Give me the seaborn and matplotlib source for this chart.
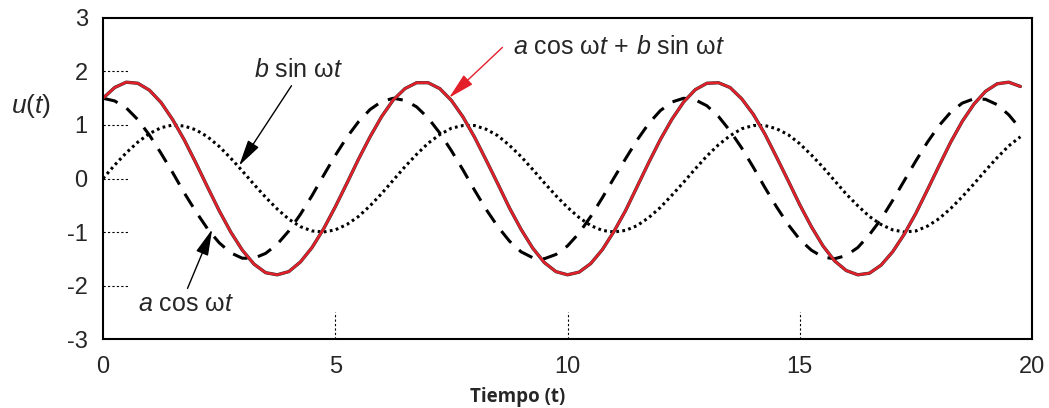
import matplotlib
matplotlib.use("Agg")
import matplotlib.pyplot as plt
import matplotlib.patheffects as pe
import numpy as np
import pandas as pd
import seaborn as sns

# Sample times (t) and values
t = np.arange(0, 20, 0.25)

a_cos = [1.50, 1.45, 1.32, 1.10, 0.81, 0.47, 0.11, -0.27, -0.62, -0.94,
         -1.20, -1.39, -1.49, -1.49, -1.40, -1.23, -0.98, -0.67, -0.32, 0.06,
         0.43, 0.77, 1.06, 1.29, 1.44, 1.50, 1.46, 1.34, 1.13, 0.85,
         0.52, 0.16, -0.22, -0.58, -0.90, -1.17, -1.37, -1.48, -1.50, -1.42,
         -1.26, -1.02, -0.71, -0.36, 0.01, 0.37, 0.72, 1.03, 1.27, 1.43,
         1.50, 1.47, 1.36, 1.16, 0.89, 0.57, 0.21, -0.17, -0.53, -0.86,
         -1.14, -1.34, -1.47, -1.50, -1.44, -1.29, -1.05, -0.76, -0.41, -0.04,
         0.33, 0.68, 0.99, 1.24, 1.41, 1.49, 1.48, 1.38, 1.19, 0.93]

b_sin = [0.00, 0.25, 0.48, 0.68, 0.84, 0.95, 1.00, 0.98, 0.91, 0.78,
         0.60, 0.38, 0.14, -0.11, -0.35, -0.57, -0.76, -0.90, -0.98, -1.00,
         -0.96, -0.86, -0.71, -0.51, -0.28, -0.03, 0.22, 0.45, 0.66, 0.82,
         0.94, 0.99, 0.99, 0.92, 0.80, 0.62, 0.41, 0.17, -0.08, -0.32,
         -0.54, -0.73, -0.88, -0.97, -1.00, -0.97, -0.88, -0.73, -0.54, -0.31,
         -0.07, 0.18, 0.42, 0.63, 0.80, 0.93, 0.99, 0.99, 0.93, 0.82,
         0.65, 0.44, 0.21, -0.04, -0.29, -0.51, -0.71, -0.86, -0.96, -1.00,
         -0.98, -0.89, -0.75, -0.56, -0.34, -0.10, 0.15, 0.39, 0.61, 0.78]

total = [1.50, 1.70, 1.80, 1.78, 1.65, 1.42, 1.10, 0.72, 0.29, -0.16,
         -0.60, -1.00, -1.34, -1.60, -1.76, -1.80, -1.74, -1.56, -1.29, -0.94,
         -0.53, -0.09, 0.36, 0.78, 1.16, 1.47, 1.68, 1.79, 1.79, 1.68,
         1.46, 1.15, 0.77, 0.34, -0.10, -0.55, -0.95, -1.30, -1.57, -1.74,
         -1.80, -1.75, -1.59, -1.33, -0.99, -0.60, -0.15, 0.30, 0.73, 1.11,
         1.43, 1.66, 1.78, 1.79, 1.70, 1.49, 1.20, 0.83, 0.40, -0.04,
         -0.49, -0.90, -1.26, -1.54, -1.72, -1.80, -1.77, -1.62, -1.37, -1.04,
         -0.65, -0.21, 0.24, 0.68, 1.07, 1.39, 1.63, 1.77, 1.80, 1.72]

x_ticks = [0, 5, 10, 15, 20]
y_ticks = [-3, -2, -1, 0, 1, 2, 3]
guide_y = [-2, -1, 0, 1, 2]
guide_x = [5, 10, 15]

df = pd.DataFrame({"t": t, "a_cos": a_cos, "b_sin": b_sin, "total": total})

sns.set_style("white")
plt.rcParams["font.family"] = ["Liberation Sans", "DejaVu Sans"]
plt.rcParams["mathtext.fontset"] = "custom"
plt.rcParams["mathtext.rm"] = "Liberation Sans"
plt.rcParams["mathtext.it"] = "Liberation Sans:italic"
plt.rcParams["axes.unicode_minus"] = False

fig = plt.figure(figsize=(10.49, 4.08), dpi=100)
ax = fig.add_axes([0.0982, 0.1691, 0.8856, 0.7868])

sns.lineplot(data=df, x="t", y="b_sin", ax=ax, color="black", lw=2.2)
ax.lines[-1].set_linestyle((0, (0.9, 1.1)))
sns.lineplot(data=df, x="t", y="a_cos", ax=ax, color="black", lw=2.2)
ax.lines[-1].set_linestyle((0, (5, 3.5)))
sns.lineplot(data=df, x="t", y="total", ax=ax, color="#e3202a", lw=1.8,
             path_effects=[pe.Stroke(linewidth=2.4, foreground="#333333"), pe.Normal()])

# dotted guide marks at the ticks
ax.hlines(guide_y, 0, 0.55, colors="black", lw=0.8, linestyles=(0, (2, 2)))
ax.vlines(guide_x, -3, -2.5, colors="black", lw=0.8, linestyles=(0, (2, 2)))

ax.set_xlim(0, 20)
ax.set_ylim(-3, 3)
ax.set_xticks(x_ticks)
ax.set_yticks(y_ticks)
ax.tick_params(length=0, labelsize=17)
ax.tick_params(axis="x", pad=12)
ax.tick_params(axis="y", pad=11)
ax.set_xlabel("")
ax.set_ylabel("")
for s in ax.spines.values():
    s.set_visible(True)
    s.set_color("black")
    s.set_linewidth(1.5)

ax.text(-1.55, 1.36, r"$u(t)$", fontsize=19, ha="center", va="center")

arrow_k = dict(arrowstyle="-|>,head_length=0.9,head_width=0.22", lw=1,
               color="black", shrinkA=0, shrinkB=0)
ax.annotate(r"$b\ \mathrm{sin}\ \mathrm{\omega}t$", xy=(2.93, 0.24), xytext=(4.2, 2.02),
            fontsize=18, ha="center", va="center", arrowprops=dict(arrow_k, relpos=(0.45, 0.0)))
ax.annotate(r"$a\ \mathrm{cos}\ \mathrm{\omega}t$", xy=(2.35, -0.95), xytext=(1.79, -2.34),
            fontsize=18, ha="center", va="center", arrowprops=dict(arrow_k, relpos=(0.5, 1.0)))
red_k = dict(arrow_k, color="#e3202a")
ax.annotate(r"$a\ \mathrm{cos}\ \mathrm{\omega}t\,+\,b\ \mathrm{sin}\ \mathrm{\omega}t$",
            xy=(7.45, 1.51), xytext=(11.11, 2.45),
            fontsize=18, ha="center", va="center", arrowprops=dict(red_k, relpos=(-0.05, 0.5)))

fig.text(518 / 1049, 1 - 397 / 408, "Tiempo (t)", fontsize=13.5, fontweight="bold",
         family=["Open Sans", "DejaVu Sans"], ha="center", va="center")

fig.savefig("out.png", dpi=100)
